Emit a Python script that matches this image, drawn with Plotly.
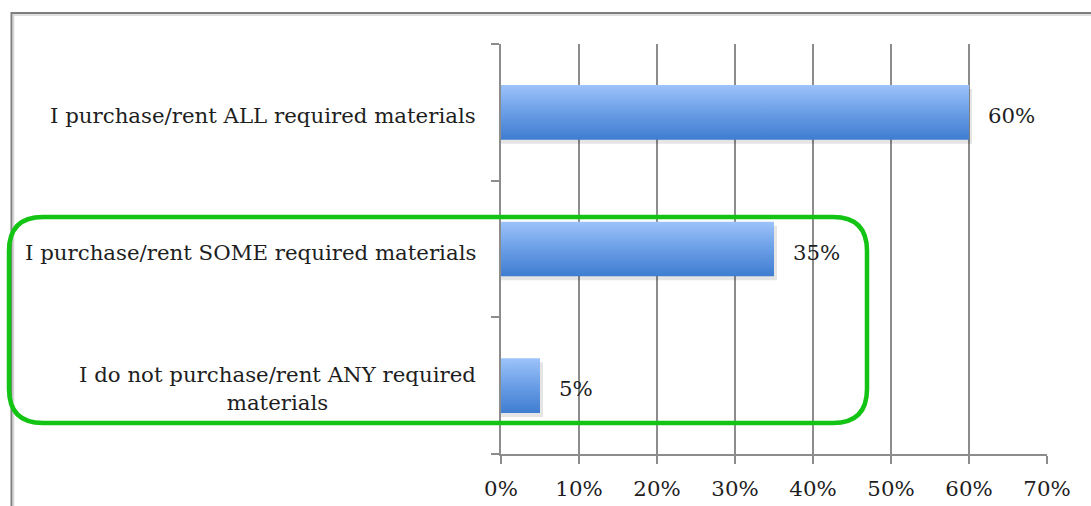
import plotly.graph_objects as go

# Survey responses (top to bottom) and their shares in percent
categories = [
    "I purchase/rent ALL required materials",
    "I purchase/rent SOME required materials",
    "I do not purchase/rent ANY required<br>materials",
]
shares = [60, 35, 5]
x_ticks = [0, 10, 20, 30, 40, 50, 60, 70]

W, H = 1091, 506
ML, MR, MT, MB = 501, 44, 44, 52
PW, PH = W - ML - MR, H - MT - MB

FONT = "DejaVu Serif, serif"
FSIZE = 21.3
TXT = "#1e1e1e"
GRID = "#8c8c8c"
BAR_HALF = 0.2

def px_x(px):
    return (px - ML) / PW

def px_y(py):
    return (H - MB - py) / PH

fig = go.Figure()

n = len(categories)
for i, (cat, v) in enumerate(zip(categories, shares)):
    yc = n - 1 - i
    # soft drop shadow under each bar
    dy = 4 / PH * 3
    dx = 3 / PW * 70
    fig.add_trace(go.Scatter(
        x=[0, v + dx, v + dx, 0, 0],
        y=[yc - BAR_HALF - dy, yc - BAR_HALF - dy, yc + BAR_HALF - dy, yc + BAR_HALF - dy, yc - BAR_HALF - dy],
        fill="toself", mode="lines", line=dict(width=0),
        fillcolor="rgba(0,0,0,0.10)", hoverinfo="skip", showlegend=False,
    ))
    # bar with vertical blue gradient
    fig.add_trace(go.Scatter(
        x=[0, v, v, 0, 0],
        y=[yc - BAR_HALF, yc - BAR_HALF, yc + BAR_HALF, yc + BAR_HALF, yc - BAR_HALF],
        fill="toself", mode="lines", line=dict(width=0),
        fillgradient=dict(type="vertical",
                          colorscale=[[0, "#3f7dd0"], [0.5, "#6a9ee6"], [1, "#9dc3fa"]]),
        name=cat, hoverinfo="x+name", showlegend=False,
    ))
    # value label
    fig.add_annotation(x=v, y=yc, xref="x", yref="y", text=f"{v}%",
                       showarrow=False, xanchor="left", xshift=17, yshift=-3,
                       font=dict(family=FONT, size=FSIZE, color=TXT))
    # category label
    fig.add_annotation(x=0, y=yc, xref="x", yref="y", text=cat,
                       showarrow=False, xanchor="right", xshift=-23, yshift=-3,
                       align="center",
                       font=dict(family=FONT, size=FSIZE, color=TXT))

# outer frame (top and left edges visible)
fig.add_shape(type="path", xref="paper", yref="paper",
              path=f"M {px_x(11.5)},{px_y(530)} L {px_x(11.5)},{px_y(13)} L {px_x(1110)},{px_y(13)}",
              line=dict(color="#7f7f7f", width=2))
fig.add_shape(type="line", xref="paper", yref="paper",
              x0=px_x(13), x1=px_x(1110), y0=px_y(15), y1=px_y(15),
              line=dict(color="#d4d4d4", width=1.5))
fig.add_shape(type="line", xref="paper", yref="paper",
              x0=px_x(13.5), x1=px_x(13.5), y0=px_y(15), y1=px_y(530),
              line=dict(color="#d4d4d4", width=1.5))

# rounded green highlight box
x0, x1, y0, y1, r = 9, 867, 217, 423, 34
def P(px, py):
    return f"{px_x(px)},{px_y(py)}"
path = (f"M {P(x0 + r, y0)} L {P(x1 - r, y0)} Q {P(x1, y0)} {P(x1, y0 + r)} "
        f"L {P(x1, y1 - r)} Q {P(x1, y1)} {P(x1 - r, y1)} "
        f"L {P(x0 + r, y1)} Q {P(x0, y1)} {P(x0, y1 - r)} "
        f"L {P(x0, y0 + r)} Q {P(x0, y0)} {P(x0 + r, y0)} Z")
fig.add_shape(type="path", xref="paper", yref="paper", path=path,
              line=dict(color="#14c414", width=4.5), layer="above")

fig.update_xaxes(
    range=[0, 70], tickvals=x_ticks, ticktext=[f"{t}%" for t in x_ticks],
    showgrid=True, gridcolor=GRID, gridwidth=2,
    showline=True, linecolor=GRID, linewidth=2,
    ticks="outside", ticklen=8, tickwidth=2, tickcolor=GRID,
    ticklabelstandoff=6,
    tickfont=dict(family=FONT, size=FSIZE, color=TXT),
    zeroline=False, fixedrange=True, automargin=False,
)
fig.update_yaxes(
    range=[-0.5, n - 0.5], tickvals=[k - 0.5 for k in range(n + 1)],
    showticklabels=False, showgrid=False, zeroline=False,
    showline=True, linecolor=GRID, linewidth=2,
    ticks="outside", ticklen=8, tickwidth=2, tickcolor=GRID,
    fixedrange=True, automargin=False,
)

fig.update_layout(
    width=W, height=H,
    margin=dict(l=ML, r=MR, t=MT, b=MB, pad=0, autoexpand=False),
    paper_bgcolor="white", plot_bgcolor="white",
    showlegend=False,
)

fig.write_html("out.html", config={"displayModeBar": False, "responsive": False})
